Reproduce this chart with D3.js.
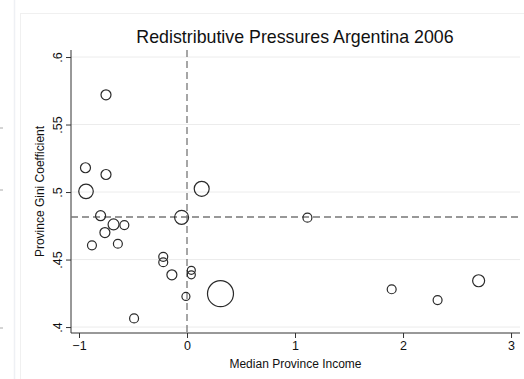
<!DOCTYPE html>
<html>
<head>
<meta charset="utf-8">
<script src="https://cdn.jsdelivr.net/npm/d3@7"></script>
<style>
  body { margin: 0; background: #fff; }
  svg { display: block; font-family: "Liberation Sans", Arial, Helvetica, sans-serif; }
</style>
</head>
<body>
<svg id="chart" width="524" height="379"></svg>
<script>
// median province income (standardised) and province gini, one entry per province
var income = [-0.75, -0.94, -0.75, -0.935, -0.80, -0.68, -0.58, -0.76, -0.88, -0.64,
              -0.49, -0.22, -0.22, -0.14, -0.01, 0.04, 0.04, 0.31, -0.05, 0.136,
              1.115, 1.895, 2.32, 2.70];
var gini = [0.572, 0.518, 0.513, 0.5005, 0.4825, 0.476, 0.4755, 0.470, 0.4605, 0.4617,
            0.4064, 0.452, 0.448, 0.4387, 0.4227, 0.442, 0.4387, 0.4247, 0.4813, 0.5024,
            0.481, 0.428, 0.420, 0.4343];
// marker weights (circle area)
var weight = [25, 25, 25, 53, 25, 30, 20, 25, 20, 20,
              20, 20, 20, 25, 16, 16, 16, 169, 49, 56,
              20, 20, 20, 36];

var xTicks = [-1, 0, 1, 2, 3];
var yTicks = [0.4, 0.45, 0.5, 0.55, 0.6];
var yTickLabels = [".4", ".45", ".5", ".55", ".6"];
var meanGini = 0.4815;
var meanIncome = 0;

var data = income.map(function(d, i) {
    return { x: d, y: gini[i], w: weight[i] };
});

var plot = { left: 71, right: 520, top: 50, bottom: 333 };

var svg = d3.select("#chart");

// outer frame (faint)
svg.append("line")
    .attr("x1", 14.5).attr("x2", 14.5).attr("y1", 0).attr("y2", 379)
    .attr("stroke", "#eef0f4").attr("stroke-width", 1.5);
svg.append("rect")
    .attr("x", 20.5).attr("y", 13.5).attr("width", 520).attr("height", 400)
    .attr("fill", "none").attr("stroke", "#f0f0f0");
// little crumbs at the far left edge
[128, 190, 328].forEach(function(y) {
    svg.append("line")
        .attr("x1", 0).attr("x2", 3).attr("y1", y).attr("y2", y)
        .attr("stroke", "#aaa").attr("stroke-width", 1);
});

var x = d3.scaleLinear().domain([-1.074, 3.083]).range([plot.left, plot.right]);
var y = d3.scaleLinear().domain([0.3956, 0.6052]).range([plot.bottom, plot.top]);
var r = d3.scaleSqrt().domain([0, d3.max(weight)]).range([0, 13]);

// gridlines
svg.append("g").selectAll("line")
    .data(yTicks)
    .enter().append("line")
    .attr("x1", plot.left).attr("x2", plot.right)
    .attr("y1", d => y(d)).attr("y2", d => y(d))
    .attr("stroke", "#ececec").attr("stroke-width", 1);

// x axis
var xAxis = svg.append("g")
    .attr("transform", "translate(0," + plot.bottom + ")")
    .call(d3.axisBottom(x).tickValues(xTicks).tickSize(5).tickPadding(3).tickFormat(d3.format("d")));
xAxis.select(".domain").attr("stroke", "#333").attr("d", "M" + plot.left + ",0H" + plot.right);
xAxis.selectAll(".tick line").attr("stroke", "#333");
xAxis.selectAll(".tick text").style("font-size", "12.5px").attr("fill", "#111");

// y axis
var yAxis = svg.append("g")
    .attr("transform", "translate(" + plot.left + ",0)")
    .call(d3.axisLeft(y).tickValues(yTicks).tickSize(5).tickFormat((d, i) => yTickLabels[i]));
yAxis.select(".domain").attr("stroke", "#333").attr("d", "M0," + plot.top + "V" + plot.bottom);
yAxis.selectAll(".tick line").attr("stroke", "#333");
yAxis.selectAll(".tick text")
    .style("font-size", "12.5px").attr("fill", "#111")
    .attr("x", 0).attr("dy", 0)
    .attr("text-anchor", "middle")
    .attr("transform", "translate(-9,0) rotate(-90)");

// mean reference lines
svg.append("line")
    .attr("x1", plot.left).attr("x2", plot.right)
    .attr("y1", y(meanGini)).attr("y2", y(meanGini))
    .attr("stroke", "#777").attr("stroke-width", 1.3).attr("stroke-dasharray", "7,4");
svg.append("line")
    .attr("x1", x(meanIncome)).attr("x2", x(meanIncome))
    .attr("y1", plot.top).attr("y2", plot.bottom)
    .attr("stroke", "#777").attr("stroke-width", 1.3).attr("stroke-dasharray", "7,4");

// points
svg.append("g").selectAll("circle")
    .data(data)
    .enter().append("circle")
    .attr("cx", d => x(d.x))
    .attr("cy", d => y(d.y))
    .attr("r", d => r(d.w))
    .attr("fill", "none")
    .attr("stroke", "#2a2a2a")
    .attr("stroke-width", 1.2);

// title and axis titles
svg.append("text")
    .attr("x", 295).attr("y", 43)
    .attr("text-anchor", "middle")
    .style("font-size", "17.8px").attr("fill", "#111")
    .text("Redistributive Pressures Argentina 2006");

svg.append("text")
    .attr("x", (plot.left + plot.right) / 2).attr("y", 368)
    .attr("text-anchor", "middle")
    .style("font-size", "12px").attr("fill", "#111")
    .text("Median Province Income");

svg.append("text")
    .attr("transform", "translate(44," + ((plot.top + plot.bottom) / 2) + ") rotate(-90)")
    .attr("text-anchor", "middle")
    .style("font-size", "12px").attr("fill", "#111")
    .text("Province Gini Coefficient");
</script>
</body>
</html>
